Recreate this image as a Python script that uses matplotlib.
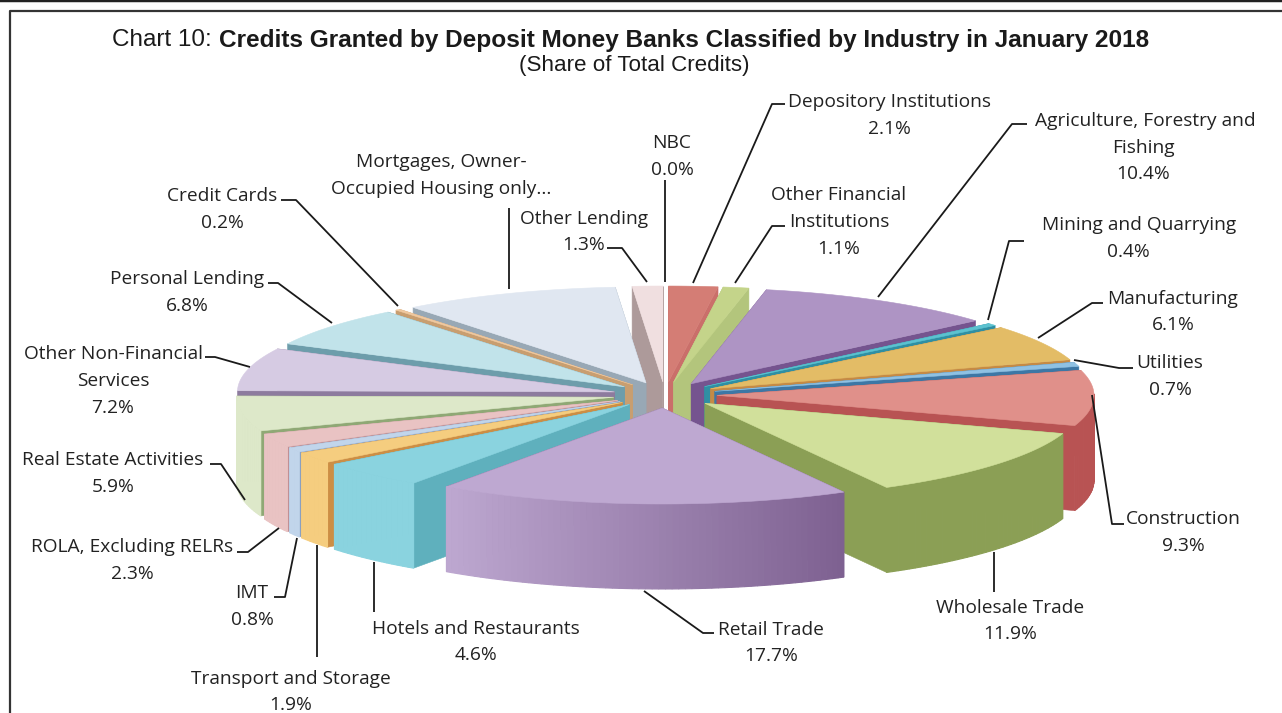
import numpy as np
import matplotlib
matplotlib.use('Agg')
import matplotlib.pyplot as plt
from matplotlib.colors import to_rgb

# Shares clockwise from 12 o'clock (Mortgages label is cut off in the source, value read as the remainder)
industries = ['NBC', 'Depository Institutions', 'Other Financial Institutions',
              'Agriculture, Forestry and Fishing', 'Mining and Quarrying', 'Manufacturing',
              'Utilities', 'Construction', 'Wholesale Trade', 'Retail Trade',
              'Hotels and Restaurants', 'Transport and Storage', 'IMT', 'ROLA, Excluding RELRs',
              'Real Estate Activities', 'Other Non-Financial Services', 'Personal Lending',
              'Credit Cards', 'Mortgages, Owner-Occupied Housing only...', 'Other Lending']
shares = [0.0, 2.1, 1.1, 10.4, 0.4, 6.1, 0.7, 9.3, 11.9, 17.7,
          4.6, 1.9, 0.8, 2.3, 5.9, 7.2, 6.8, 0.2, 9.3, 1.3]
top_colors = ['#ffffff', '#d47d75', '#c4d48a', '#ae94c4', '#5cc2d0', '#e3bc66',
              '#8fc1e3', '#e0908a', '#d1e09b', '#bea8d1',
              '#8ad3df', '#f5cd7f', '#c1d5eb', '#e9c3c3',
              '#dde8c9', '#d6cbe3', '#c1e3ea', '#f0c9a0', '#e0e7f1', '#f0dfe0']
wall_colors = ['#ffffff', '#ca6f6a', '#b3c57c', '#75548f', '#2f8fa3', '#c58a45',
               '#3d77a5', '#b85353', '#8b9f55', '#7d6090',
               '#5fb0bd', '#cc8e45', '#8aa0c0', '#c09095',
               '#8fa875', '#8d7b9e', '#6d9dab', '#c89e70', '#98a8b5', '#ad9a9a']

# Text and leader lines, in picture pixels
labels = [
    (889, 100, 'Depository Institutions'), (889, 127, '2.1%'),
    (1145, 119, 'Agriculture, Forestry and'), (1143, 146, 'Fishing'), (1143, 172, '10.4%'),
    (1139, 223, 'Mining and Quarrying'), (1128, 250, '0.4%'),
    (1173, 297, 'Manufacturing'), (1173, 323, '6.1%'),
    (1170, 361, 'Utilities'), (1170, 388, '0.7%'),
    (1183, 517, 'Construction'), (1183, 544, '9.3%'),
    (1010, 606, 'Wholesale Trade'), (1010, 632, '11.9%'),
    (771, 628, 'Retail Trade'), (771, 654, '17.7%'),
    (476, 627, 'Hotels and Restaurants'), (476, 653, '4.6%'),
    (291, 677, 'Transport and Storage'), (291, 703, '1.9%'),
    (252, 591, 'IMT'), (252, 618, '0.8%'),
    (132, 545, 'ROLA, Excluding RELRs'), (132, 572, '2.3%'),
    (113, 458, 'Real Estate Activities'), (113, 485, '5.9%'),
    (113, 352, 'Other Non-Financial'), (113, 379, 'Services'), (113, 406, '7.2%'),
    (187, 277, 'Personal Lending'), (187, 304, '6.8%'),
    (222, 194, 'Credit Cards'), (222, 221, '0.2%'),
    (441, 160, 'Mortgages, Owner-'), (441, 187, 'Occupied Housing only...'),
    (584, 217, 'Other Lending'), (584, 243, '1.3%'),
    (672, 141, 'NBC'), (672, 168, '0.0%'),
    (839, 193, 'Other Financial'), (839, 220, 'Institutions'), (839, 247, '1.1%'),
]
leaders = [
    [(785, 104), (772, 104), (693, 283)],
    [(785, 226), (772, 226), (735, 283)],
    [(1027, 124), (1012, 124), (878, 297)],
    [(1024, 241), (1009, 241), (988, 320)],
    [(1103, 303), (1092, 303), (1038, 338)],
    [(1133, 368), (1119, 368), (1074, 360)],
    [(1092, 395), (1112, 524), (1124, 524)],
    [(994, 552), (994, 592)],
    [(644, 591), (703, 633), (714, 633)],
    [(374, 562), (374, 612)],
    [(317, 545), (317, 657)],
    [(297, 538), (285, 597), (274, 597)],
    [(279, 528), (248, 552), (237, 552)],
    [(245, 500), (221, 464), (210, 464)],
    [(205, 357), (215, 357), (250, 367)],
    [(268, 283), (278, 283), (332, 323)],
    [(281, 200), (296, 200), (398, 306)],
    [(509, 208), (509, 289)],
    [(607, 248), (622, 248), (647, 282)],
    [(665, 180), (665, 282)],
]

# Pie projection
cx, cy = 665, 395
rx, ry = 377, 96
explode_x, explode_y = 52, 13
depth = 85


def rim_point(apex, ang):
    a = np.radians(ang)
    return apex[0] + rx * np.sin(a), apex[1] - ry * np.cos(a)


def mix(c1, c2, t):
    c1, c2 = np.array(to_rgb(c1)), np.array(to_rgb(c2))
    return tuple(c1 + (c2 - c1) * t)


def draw_wall(ax, apex, ang, color):
    x, y = rim_point(apex, ang)
    ax.fill([apex[0], x, x, apex[0]], [apex[1], y, y + depth, apex[1] + depth],
            facecolor=color, edgecolor=color, lw=0.4)


def draw_slice(ax, start, end, top, wall):
    mid = np.radians((start + end) / 2)
    apex = (cx + explode_x * np.sin(mid), cy - explode_y * np.cos(mid))

    # walls, the one further back first
    if (start + end) / 2 < 180:
        draw_wall(ax, apex, start, wall)
        draw_wall(ax, apex, end, wall)
    else:
        draw_wall(ax, apex, end, wall)
        draw_wall(ax, apex, start, wall)

    # outer rim, front half only; shading goes dark towards the right
    angs = np.linspace(start, end, max(int(end - start), 2) + 1)
    for a0, a1 in zip(angs[:-1], angs[1:]):
        if a1 <= 90 or a0 >= 270:
            continue
        x0, y0 = rim_point(apex, a0)
        x1, y1 = rim_point(apex, a1)
        t = np.clip((215 - (a0 + a1) / 2) / 64, 0, 1)
        c = mix(top, wall, t)
        ax.fill([x0, x1, x1, x0], [y0, y1, y1 + depth, y0 + depth],
                facecolor=c, edgecolor=c, lw=0.8, joinstyle='bevel')

    # top face
    angs = np.linspace(start, end, 80)
    xs, ys = rim_point(apex, angs)
    ax.fill(np.r_[apex[0], xs], np.r_[apex[1], ys], facecolor=top, edgecolor=top, lw=0.4)


fig = plt.figure(figsize=(12.82, 7.13), dpi=100)
ax = fig.add_axes([0, 0, 1, 1])
ax.set_xlim(0, 1282)
ax.set_ylim(713, 0)
ax.axis('off')

# Frame
ax.plot([0, 1282], [0, 0], color='#222222', lw=2.5)
ax.plot([1282, 10, 10], [10.5, 10.5, 713], color='#333333', lw=1.6)

# Slices from back to front
edges = np.r_[0, np.cumsum(shares)] / np.sum(shares) * 360
order = sorted(range(len(shares)),
               key=lambda i: min((edges[i] + edges[i + 1]) / 2, 360 - (edges[i] + edges[i + 1]) / 2))
for i in order:
    if shares[i] > 0:
        draw_slice(ax, edges[i], edges[i + 1], top_colors[i], wall_colors[i])

for line in leaders:
    xs, ys = zip(*line)
    ax.plot(xs, ys, color='#1a1a1a', lw=1.3, solid_capstyle='butt')

for x, y, s in labels:
    ax.text(x, y + 2, s, ha='center', va='center', fontsize=13.75, color='#222222', family='Open Sans')

# Title
ax.text(112, 40, 'Chart 10:', ha='left', va='center', fontsize=17.5, color='#1a1a1a', family='Liberation Sans')
ax.text(219, 40, 'Credits Granted by Deposit Money Banks Classified by Industry in January 2018',
        ha='left', va='center', fontsize=17.55, weight='bold', color='#1a1a1a', family='Liberation Sans')
ax.text(634, 66, '(Share of Total Credits)', ha='center', va='center', fontsize=16.1,
        color='#1a1a1a', family='Liberation Sans')

fig.savefig('out.png', dpi=100)
